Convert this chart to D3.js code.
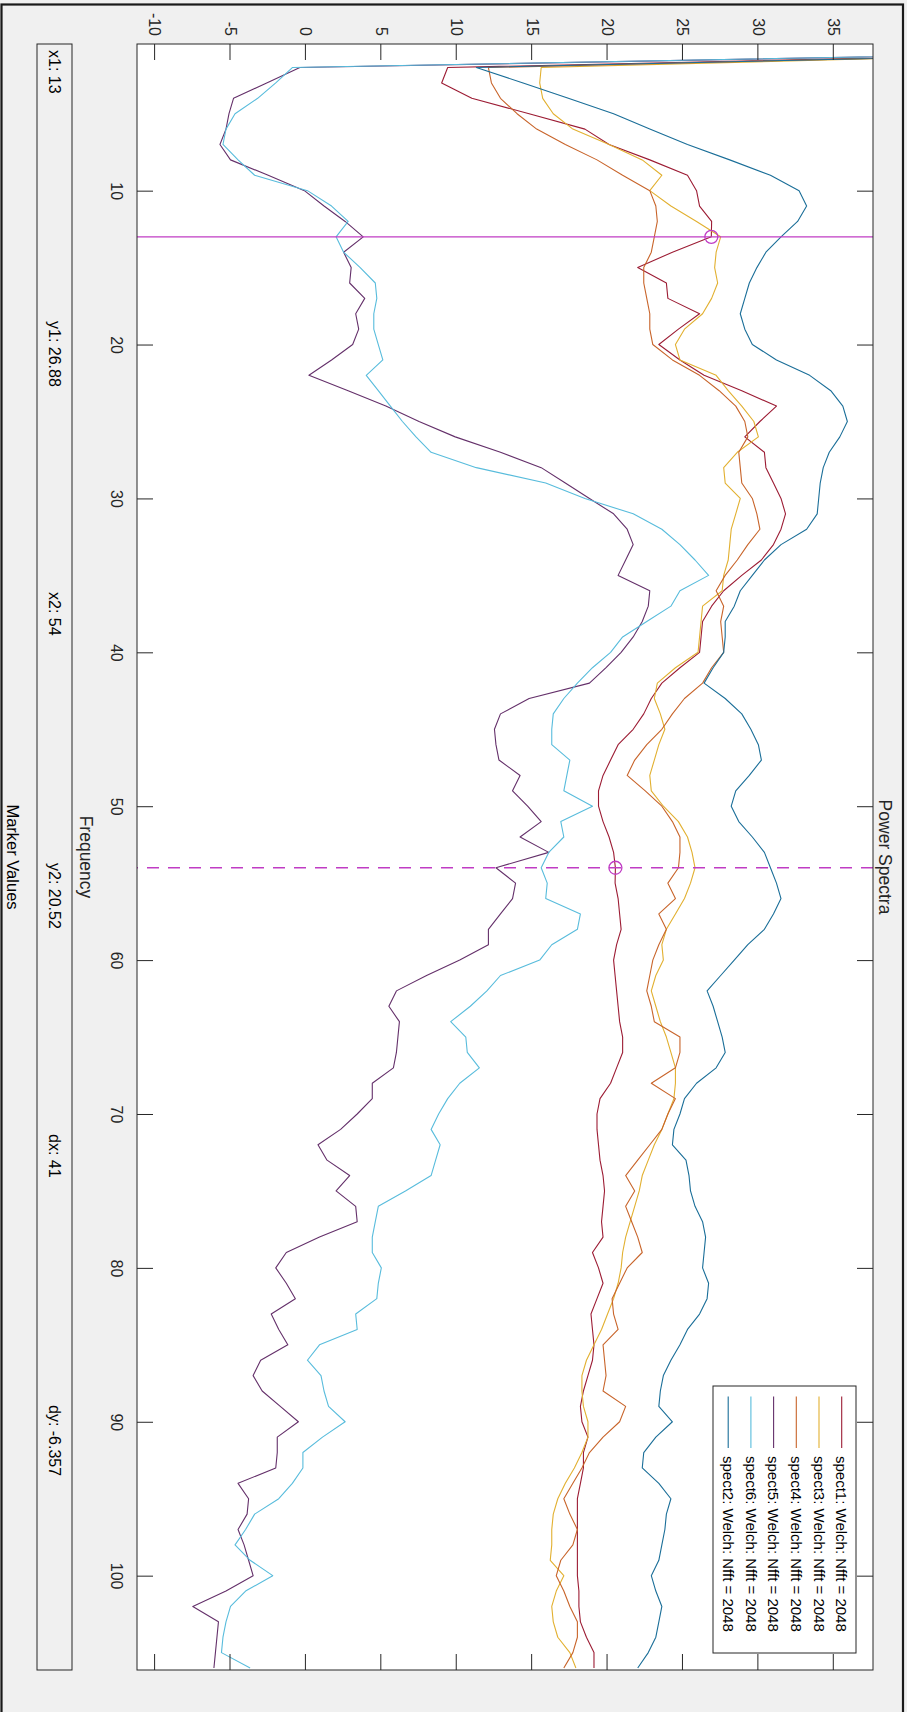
<!DOCTYPE html>
<html><head><meta charset="utf-8">
<script src="https://cdn.jsdelivr.net/npm/d3@7"></script>
<style>body{margin:0;background:#f0f0f0}svg{display:block}</style>
</head><body>
<svg id="chart" width="907" height="1712"></svg>
<script>
// ---------------- data ----------------
const freqs = [1,2,3,4,5,6,7,8,9,10,11,12,13,14,15,16,17,18,19,20,21,22,23,24,25,26,27,28,29,30,31,32,33,34,35,36,37,38,39,40,41,42,43,44,45,46,47,48,49,50,51,52,53,54,55,56,57,58,59,60,61,62,63,64,65,66,67,68,69,70,71,72,73,74,75,76,77,78,79,80,81,82,83,84,85,86,87,88,89,90,91,92,93,94,95,96,97,98,99,100,101,102,103,104,105,106];

const spect1 = [55,9.4,9.0,11.0,14.8,18.5,20.1,22.8,25.3,25.9,26.1,26.9,26.88,24.3,22.0,23.9,24.0,26.1,24.7,23.4,24.8,26.4,28.9,31.2,30.1,29.1,30.4,30.5,31.0,31.5,31.8,31.5,31.0,30.2,28.9,27.7,26.9,26.3,26.2,26.1,24.8,23.6,22.9,22.4,21.7,20.7,20.2,19.7,19.4,19.4,19.7,20.1,20.4,20.52,20.5,20.7,20.8,20.9,20.6,20.4,20.5,20.6,20.7,20.8,21.0,21.0,20.6,20.2,19.5,19.3,19.3,19.4,19.5,19.7,19.8,19.7,19.6,19.7,19.0,19.4,19.7,19.3,18.9,19.0,19.1,19.0,18.7,18.4,18.2,18.3,18.7,18.4,18.4,18.2,18.0,18.0,18.0,18.0,18.0,18.0,18.1,18.1,18.2,18.6,19.1,19.1];

const spect2 = [56,11.3,14.4,17.4,20.4,22.8,25.3,28.1,30.8,32.7,33.2,32.6,31.5,30.5,29.9,29.4,29.1,28.8,29.1,29.6,31.2,33.4,34.8,35.6,35.9,35.4,34.7,34.3,34.1,34.0,33.9,33.2,31.5,30.4,29.6,28.8,28.4,27.8,27.8,27.7,27.0,26.4,27.8,28.9,29.5,30.0,30.2,29.4,28.5,28.2,28.7,29.6,30.4,30.8,31.2,31.5,31.0,30.4,29.3,28.4,27.5,26.6,27.0,27.3,27.6,27.8,27.2,25.9,25.1,24.8,24.4,24.3,25.2,25.4,25.5,25.8,26.3,26.5,26.4,26.3,26.7,26.6,26.1,25.3,24.8,24.2,23.7,23.5,23.4,24.3,23.2,22.4,22.3,23.4,24.2,23.9,23.8,23.6,23.4,22.9,23.2,23.6,23.4,23.2,22.7,22.0];

const spect3 = [54,15.6,15.5,15.7,16.4,17.7,20.1,22.3,23.6,22.8,24.2,25.9,27.5,27.2,27.1,27.3,26.9,26.3,25.1,24.5,24.8,27.2,28.0,28.9,29.7,30.0,28.6,27.7,27.8,28.8,28.5,28.2,28.1,28.0,27.7,27.6,26.3,26.2,26.1,26.0,24.5,23.3,23.1,23.5,23.8,23.4,23.1,22.8,22.9,23.7,24.7,25.3,25.6,25.8,25.5,25.1,24.5,23.9,23.6,23.7,23.2,22.9,23.2,23.5,23.9,24.2,24.5,24.5,24.4,24.0,23.6,23.1,22.7,22.3,22.1,21.8,21.5,21.2,21.0,20.9,20.7,20.4,20.0,19.6,19.1,18.6,18.3,18.3,18.4,18.7,18.7,18.3,17.8,17.2,16.7,16.4,16.3,16.3,16.2,17.1,16.6,16.3,16.4,16.7,17.5,17.9];

const spect4 = [55,12.1,12.3,12.9,14.0,15.3,17.2,19.3,21.0,22.8,23.2,23.3,23.1,22.9,22.4,22.4,22.6,22.8,22.8,23.0,24.3,26.1,27.4,28.5,29.1,29.3,28.7,28.8,28.9,29.6,29.9,30.1,29.3,28.6,27.8,27.2,27.7,27.5,27.6,27.7,26.9,26.3,25.1,24.3,23.6,22.6,21.8,21.3,22.5,23.6,24.3,24.8,24.8,24.7,24.0,24.5,23.4,23.9,23.4,23.0,22.8,22.6,22.9,23.1,24.8,24.8,24.5,22.9,24.5,24.0,23.6,22.8,22.0,21.2,21.8,21.2,21.6,22.0,22.3,21.3,20.8,20.3,20.4,20.7,19.7,19.8,19.9,19.7,21.2,20.8,19.7,18.8,18.3,17.7,17.1,17.5,18.0,17.7,16.9,16.6,17.1,17.5,18.0,18.0,17.7,17.1];

const spect5 = [54,-0.4,-2.6,-4.8,-5.1,-5.3,-5.7,-5.0,-2.5,-0.1,1.2,2.6,3.8,2.5,3.0,2.9,3.9,3.3,3.5,3.1,1.7,0.2,2.8,5.3,7.5,9.9,12.9,15.6,17.2,18.8,20.4,21.3,21.7,21.2,20.7,22.8,22.7,22.3,21.7,20.9,19.9,18.8,14.8,12.9,12.5,12.6,12.8,14.2,13.7,14.7,15.6,14.2,16.1,12.6,13.9,13.7,12.9,12.1,12.1,10.2,8.0,6.0,5.5,6.2,6.1,6.0,5.8,4.4,4.4,3.4,2.3,0.8,1.4,2.9,2.0,3.3,3.4,0.9,-1.3,-2.0,-1.3,-0.7,-2.3,-1.8,-1.2,-3.0,-3.5,-2.9,-1.7,-0.5,-1.9,-1.9,-2.0,-4.5,-3.8,-3.9,-4.5,-4.1,-3.8,-3.5,-5.3,-7.5,-5.8,-5.9,-6.0,-6.1];

const spect6 = [54,-0.9,-2.0,-3.2,-4.7,-5.3,-5.5,-4.5,-3.4,0.1,1.7,2.8,2.0,2.5,3.6,4.6,4.7,4.5,4.5,4.8,5.1,4.0,4.8,5.6,6.4,7.3,8.3,11.3,15.9,18.5,21.7,23.6,24.8,25.8,26.7,24.8,24.2,22.6,21.0,20.2,19.0,18.0,17.1,16.4,16.3,16.3,17.5,17.3,17.1,19.0,16.9,17.1,16.1,15.6,16.0,15.9,18.2,18.0,16.3,15.5,12.9,12.0,10.9,9.6,10.6,10.7,11.5,10.2,9.4,8.8,8.3,8.9,8.6,8.3,6.6,4.8,4.6,4.4,4.4,5.0,4.8,4.7,3.3,3.4,0.9,0.1,1.0,1.2,1.5,2.6,1.1,-0.2,-0.2,-0.9,-1.8,-3.4,-4.0,-4.7,-3.7,-2.2,-4.0,-5.0,-5.3,-5.5,-5.6,-3.7];

const seriesNames = ["spect1: Welch: Nfft = 2048","spect3: Welch: Nfft = 2048","spect4: Welch: Nfft = 2048","spect5: Welch: Nfft = 2048","spect6: Welch: Nfft = 2048","spect2: Welch: Nfft = 2048"];
const seriesColors = ["#9c1c34","#e2b030","#c8642a","#64306a","#58bcdc","#1a6e98"];
const seriesValues = [spect1, spect3, spect4, spect5, spect6, spect2];

const freqTicks = [10,20,30,40,50,60,70,80,90,100];
const valueTicks = [-10,-5,0,5,10,15,20,25,30,35];
const freqDomain = [0.47, 106.13];
const valueDomain = [-11.2, 37.6];

const markerFreqs = [13, 54];
const markerValues = [26.88, 20.52];
const markerLabels = ["x1: 13","y1: 26.88","x2: 54","y2: 20.52","dx: 41","dy: -6.357"];

const titleText = "Power Spectra";
const xLabelText = "Frequency";
const panelTitle = "Marker Values";

// ---------------- drawing (original landscape layout, rotated 90° clockwise) ----------------
const FONT = "'Liberation Sans', Arial, Helvetica, sans-serif";
const INK = "#262626";
const svg = d3.select("#chart");
svg.append("rect").attr("width",907).attr("height",1712).attr("fill","#f0f0f0");
const g = svg.append("g").attr("transform","translate(907,0) rotate(90)");

// figure frame
g.append("rect").attr("x",4.5).attr("y",4).attr("width",1730).attr("height",901.5)
  .attr("fill","none").attr("stroke","#1a1a1a").attr("stroke-width",2.2);

const P = {left:44, right:1670, top:34, bottom:770};
const x = d3.scaleLinear().domain(freqDomain).range([P.left, P.right]);
const y = d3.scaleLinear().domain(valueDomain).range([P.bottom, P.top]);

g.append("rect").attr("x",P.left).attr("y",P.top).attr("width",P.right-P.left).attr("height",P.bottom-P.top).attr("fill","#ffffff");

g.append("clipPath").attr("id","clip").append("rect")
  .attr("x",P.left).attr("y",P.top).attr("width",P.right-P.left).attr("height",P.bottom-P.top);

// series
const line = d3.line().x(d=>x(d[0])).y(d=>y(d[1]));
const sg = g.append("g").attr("clip-path","url(#clip)");
seriesValues.forEach((vals,i)=>{
  sg.append("path").datum(freqs.map((f,j)=>[f,vals[j]]))
    .attr("d",line).attr("fill","none").attr("stroke",seriesColors[i])
    .attr("stroke-width",1.1).attr("stroke-linejoin","round");
});

// markers
const MC = "#c03cc4";
markerFreqs.forEach((f,i)=>{
  sg.append("line").attr("x1",x(f)).attr("x2",x(f)).attr("y1",P.top).attr("y2",P.bottom)
    .attr("stroke",MC).attr("stroke-width",1.3)
    .attr("stroke-dasharray", i===1 ? "12,9" : null);
  sg.append("circle").attr("cx",x(f)).attr("cy",y(markerValues[i])).attr("r",6.5)
    .attr("fill","none").attr("stroke",MC).attr("stroke-width",1.3);
});

// axes
function styleAxis(sel){
  sel.select(".domain").remove();
  sel.selectAll(".tick line").attr("stroke",INK).attr("stroke-width",1);
  sel.selectAll("text").attr("fill",INK).style("font-family",FONT).style("font-size","16px");
}
g.append("g").attr("transform",`translate(0,${P.bottom})`)
  .call(d3.axisBottom(x).tickValues(freqTicks).tickSize(-16).tickPadding(15).tickFormat(d=>String(d))).call(styleAxis);
g.append("g").attr("transform",`translate(0,${P.top})`)
  .call(d3.axisTop(x).tickValues(freqTicks).tickSize(-16).tickFormat("")).call(styleAxis);
g.append("g").attr("transform",`translate(${P.left},0)`)
  .call(d3.axisLeft(y).tickValues(valueTicks).tickSize(-16).tickPadding(8).tickFormat(d=>String(d))).call(styleAxis);
g.append("g").attr("transform",`translate(${P.right},0)`)
  .call(d3.axisRight(y).tickValues(valueTicks).tickSize(-16).tickFormat("")).call(styleAxis);

// box
g.append("rect").attr("x",P.left).attr("y",P.top).attr("width",P.right-P.left).attr("height",P.bottom-P.top)
  .attr("fill","none").attr("stroke",INK).attr("stroke-width",1);

// legend
const L = {right:P.right-17, top:P.top+17, width:267, height:143};
const lg = g.append("g").attr("transform",`translate(${L.right-L.width},${L.top})`);
lg.append("rect").attr("width",L.width).attr("height",L.height).attr("fill","#fff").attr("stroke",INK).attr("stroke-width",1);
seriesNames.forEach((name,i)=>{
  const yy = 14.3 + i*22.7;
  lg.append("line").attr("x1",10.5).attr("x2",62).attr("y1",yy).attr("y2",yy).attr("stroke",seriesColors[i]).attr("stroke-width",1.1);
  lg.append("text").attr("x",70).attr("y",yy).attr("dy","0.35em").text(name)
    .style("font-family",FONT).style("font-size","15px").attr("fill","#000");
});

// title and label
const cx = (P.left+P.right)/2;
g.append("text").attr("x",cx).attr("y",P.top-6).attr("text-anchor","middle").text(titleText)
  .style("font-family",FONT).style("font-size","17.5px").attr("fill",INK);
g.append("text").attr("x",cx).attr("y",P.bottom+57).attr("text-anchor","middle").text(xLabelText)
  .style("font-family",FONT).style("font-size","17.5px").attr("fill",INK);

// marker values panel
const PN = {top:835, bottom:870};
g.append("rect").attr("x",P.left).attr("y",PN.top).attr("width",P.right-P.left).attr("height",PN.bottom-PN.top)
  .attr("fill","#f0f0f0").attr("stroke",INK).attr("stroke-width",1);
const colW = (P.right-P.left)/markerLabels.length;
markerLabels.forEach((t,i)=>{
  g.append("text").attr("x",P.left+i*colW+6).attr("y",(PN.top+PN.bottom)/2).attr("dy","0.35em").text(t)
    .style("font-family",FONT).style("font-size","16px").attr("fill","#000");
});
g.append("text").attr("x",cx).attr("y",900).attr("text-anchor","middle").text(panelTitle)
  .style("font-family",FONT).style("font-size","16.5px").attr("fill","#000");
</script>
</body></html>
